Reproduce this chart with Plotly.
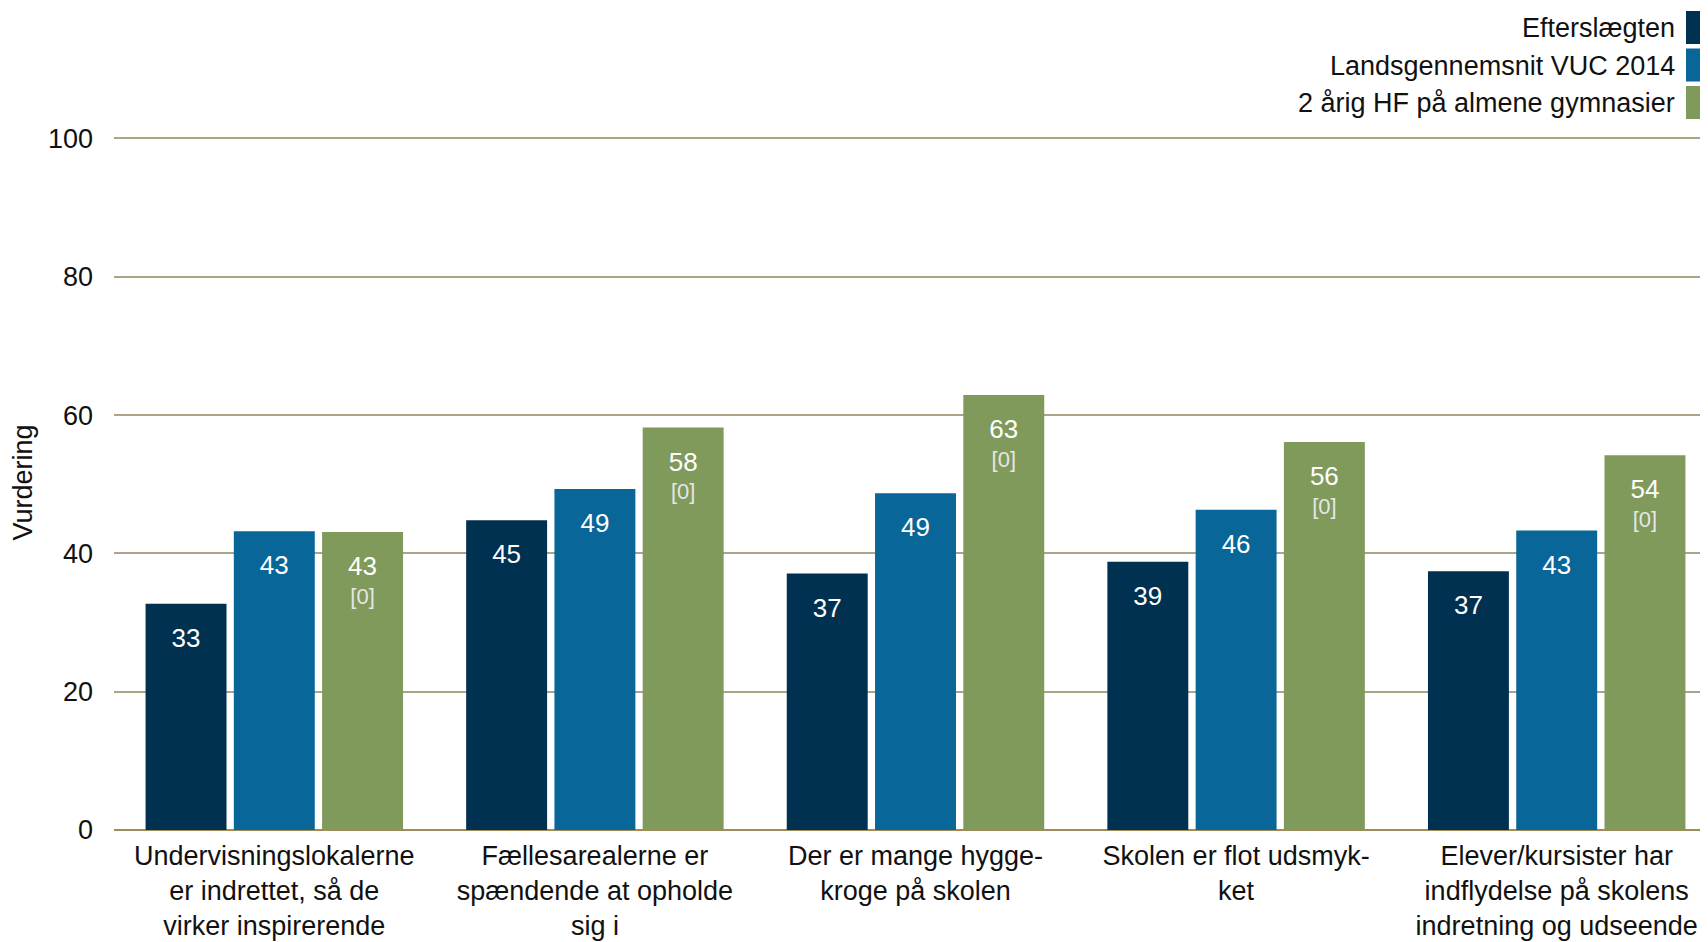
import plotly.graph_objects as go

# categories (x axis labels, wrapped as in the source)
categories = [
    "Undervisningslokalerne<br>er indrettet, så de<br>virker inspirerende",
    "Fællesarealerne er<br>spændende at opholde<br>sig i",
    "Der er mange hygge-<br>kroge på skolen",
    "Skolen er flot udsmyk-<br>ket",
    "Elever/kursister har<br>indflydelse på skolens<br>indretning og udseende",
]

series_names = ["Efterslægten", "Landsgennemsnit VUC 2014", "2 årig HF på almene gymnasier"]
efterslaegten = [32.7, 44.8, 37.1, 38.8, 37.4]
landsgennemsnit = [43.2, 49.3, 48.7, 46.3, 43.3]
hf_almene = [43.1, 58.2, 62.9, 56.1, 54.2]
hf_n = [0, 0, 0, 0, 0]

colors = ["#003150", "#086699", "#7f9a5a"]
FONT = "Liberation Sans"
BARGAP = 0.174

# page geometry (body has an 8px margin); y range a bit above 100 so the top gridline shows
YMAX = 100.5
ML, MT, PLOT_H = 106, 127, 695
PLOT_W = 1708 - ML
Y0_PX = 8 + MT + PLOT_H  # page y of value 0

values = [efterslaegten, landsgennemsnit, hf_almene]

fig = go.Figure()

for i, (name, vals) in enumerate(zip(series_names, values)):
    fig.add_trace(go.Bar(
        x=categories, y=vals, name=name,
        marker=dict(color=colors[i], line=dict(width=0)),
        offsetgroup=str(i), hoverinfo="skip", showlegend=False,
    ))

# value labels inside the top of each bar (scatter grouped like the bars)
for i, vals in enumerate(values):
    if i == 2:
        labels = ["<span style='font-size:26px'>%d</span><br><span style='color:#e6e6e6'>[%d]</span>" % (round(v), n)
                  for v, n in zip(vals, hf_n)]
    else:
        labels = ["<span style='font-size:26px'>%d</span>" % round(v) for v in vals]
    fig.add_trace(go.Scatter(
        x=categories, y=vals, mode="markers+text", text=labels,
        textposition="bottom center",
        textfont=dict(family=FONT, size=22, color="white"),
        marker=dict(size=41, color="rgba(0,0,0,0)"),
        offsetgroup=str(i), orientation="v",
        hoverinfo="skip", showlegend=False, cliponaxis=False,
    ))

# legend: text right-aligned with the colour swatch to the right
for i, name in enumerate(series_names):
    top = 11 + 37.5 * i  # swatch top, px from page top
    fig.add_annotation(
        text=name, xref="paper", yref="paper", x=1.0, y=1.0,
        xanchor="right", yanchor="middle", showarrow=False,
        xshift=-39, yshift=(8 + MT) - (top + 17),
        font=dict(family=FONT, size=27, color="#111111"),
    )
    fig.add_shape(
        type="rect", xref="paper", yref="paper",
        x0=(1686 - 114) / PLOT_W, x1=1.02,
        y0=(Y0_PX - (top + 33)) / PLOT_H, y1=(Y0_PX - top) / PLOT_H,
        fillcolor=colors[i], line=dict(width=0), layer="above",
    )

fig.update_layout(
    width=1708, height=942,
    margin=dict(l=ML, r=0, t=MT, b=942 - MT - PLOT_H),
    paper_bgcolor="white", plot_bgcolor="white",
    barmode="group", bargap=BARGAP, bargroupgap=0.083,
    scattermode="group", scattergap=BARGAP,
    font=dict(family=FONT, size=27, color="#111111"),
    showlegend=False,
    xaxis=dict(
        range=[-0.5, -0.5 + PLOT_W / 320.6], showgrid=False, showline=False, zeroline=False,
        ticks="", tickfont=dict(size=27, color="#111111"), tickangle=0,
        ticklabelstandoff=7, fixedrange=True,
    ),
    yaxis=dict(
        range=[0, YMAX], tickvals=[0, 20, 40, 60, 80, 100],
        showgrid=True, gridcolor="#ada385", gridwidth=1.5,
        zeroline=True, zerolinecolor="#a08c5a", zerolinewidth=2,
        showline=False, ticks="", ticklabelstandoff=20,
        tickfont=dict(size=27, color="#111111"),
        title=dict(text="Vurdering", font=dict(size=27, color="#111111"), standoff=7),
        fixedrange=True,
    ),
)

fig.write_html("out.html")
